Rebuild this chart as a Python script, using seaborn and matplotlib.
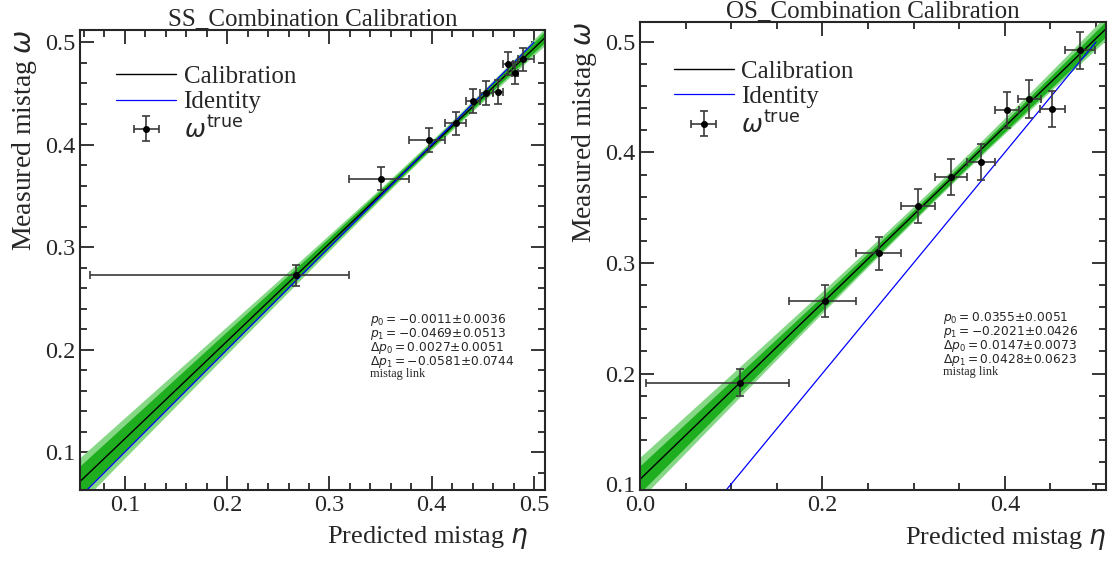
import numpy as np
import pandas as pd
import matplotlib
matplotlib.use('Agg')
import matplotlib.pyplot as plt
from matplotlib.ticker import MultipleLocator
import seaborn as sns

# SS combination: eta (mean of bin), bin edges, measured omega and its error
ss_eta = [0.267, 0.350, 0.397, 0.4235, 0.4407, 0.453, 0.4645, 0.4746, 0.4814, 0.4895]
ss_eta_lo = [0.066, 0.319, 0.378, 0.413, 0.4335, 0.447, 0.4596, 0.470, 0.478, 0.4845]
ss_eta_hi = [0.319, 0.378, 0.413, 0.4335, 0.447, 0.4596, 0.4694, 0.479, 0.4845, 0.500]
ss_omega = [0.2726, 0.3666, 0.4047, 0.4207, 0.4424, 0.4505, 0.4515, 0.479, 0.470, 0.4834]
ss_omega_err = [0.0104, 0.0112, 0.0117, 0.0114, 0.0115, 0.0114, 0.0114, 0.0112, 0.0111, 0.0112]

# OS combination
os_eta = [0.1093, 0.203, 0.2616, 0.3046, 0.3406, 0.3744, 0.4025, 0.4264, 0.452, 0.4826]
os_eta_lo = [0.0067, 0.1633, 0.2369, 0.286, 0.3236, 0.3584, 0.3891, 0.4146, 0.4386, 0.4658]
os_eta_hi = [0.1633, 0.2374, 0.286, 0.3236, 0.3584, 0.3891, 0.4156, 0.4392, 0.4658, 0.4988]
os_omega = [0.1918, 0.2655, 0.3088, 0.3517, 0.3775, 0.3911, 0.4386, 0.4485, 0.4395, 0.4924]
os_omega_err = [0.0126, 0.0142, 0.0148, 0.0156, 0.0163, 0.0163, 0.0165, 0.0170, 0.0166, 0.0170]

# calibration parameters  (p0, dp0, p1, dp1, Dp0, dDp0, Dp1, dDp1)
ss_par = [-0.0011, 0.0036, -0.0469, 0.0513, 0.0027, 0.0051, -0.0581, 0.0744]
os_par = [0.0355, 0.0051, -0.2021, 0.0426, 0.0147, 0.0073, 0.0428, 0.0623]
ss_eta_avg = 0.40
os_eta_avg = 0.34

sns.set_theme(style='ticks')
plt.rcParams['font.family'] = ['Liberation Serif', 'DejaVu Sans']
plt.rcParams['mathtext.fontset'] = 'dejavusans'

fig = plt.figure(figsize=(11.13, 5.61), dpi=100)
ax1 = fig.add_axes([0.0719, 0.1266, 0.418, 0.820])
ax2 = fig.add_axes([0.5750, 0.1266, 0.4187, 0.834])


def draw(ax, title, eta, lo, hi, omega, oerr, par, eta_avg, xlim, ylim, xmaj, xmin,
         txt_xy, leg_xy, xlab_x):
    p0, dp0, p1, dp1, Dp0, dDp0, Dp1, dDp1 = par
    grid = np.linspace(-0.05, 0.55, 300)
    calib = grid + p0 + p1 * (grid - eta_avg)
    sig = np.sqrt(dp0 ** 2 + ((grid - eta_avg) * dp1) ** 2)
    ax.fill_between(grid, calib - 1.25 * sig, calib + 1.25 * sig, color='#86d886', lw=0)
    ax.fill_between(grid, calib - 0.8 * sig, calib + 0.8 * sig, color='#1fae1f', lw=0)
    sns.lineplot(x=grid, y=calib, color='black', lw=1.0, ax=ax, label='Calibration')
    ident = np.linspace(0, 0.5, 50)
    sns.lineplot(x=ident, y=ident, color='blue', lw=0.9, ax=ax, label='Identity')
    eta = np.array(eta)
    xerr = [eta - np.array(lo), np.array(hi) - eta]
    ax.errorbar(eta, omega, xerr=xerr, yerr=oerr, fmt='o', color='black', ms=4,
                ecolor='#3a3a3a', elinewidth=1.2, capsize=3, capthick=1.2,
                label=r'$\omega^{\rm true}$')
    ax.set_xlim(*xlim)
    ax.set_ylim(*ylim)
    ax.xaxis.set_major_locator(MultipleLocator(xmaj))
    ax.xaxis.set_minor_locator(MultipleLocator(xmin))
    ax.yaxis.set_major_locator(MultipleLocator(0.1))
    ax.yaxis.set_minor_locator(MultipleLocator(0.02))
    ax.tick_params(which='both', direction='in', top=True, right=True, labelsize=17.5, width=1.3)
    ax.tick_params(which='major', length=10)
    ax.tick_params(which='minor', length=5)
    for s in ax.spines.values():
        s.set_linewidth(1.5)
    ax.set_xlabel(r'Predicted mistag $\eta$', fontsize=19, ha='right', va='top')
    ax.xaxis.set_label_coords(xlab_x, -0.075)
    ax.set_ylabel(r'Measured mistag $\omega$', fontsize=20, loc='top')
    ax.set_title(title, fontsize=18, pad=0)
    ax.legend(loc='upper left', bbox_to_anchor=leg_xy, frameon=False, fontsize=18,
              handlelength=2.4, labelspacing=0.12, borderaxespad=0, handletextpad=0.3)
    info = '\n'.join([r'$p_0 = %.4f{\pm}%.4f$' % (p0, dp0),
                      r'$p_1 = %.4f{\pm}%.4f$' % (p1, dp1),
                      r'$\Delta p_0 = %.4f{\pm}%.4f$' % (Dp0, dDp0),
                      r'$\Delta p_1 = %.4f{\pm}%.4f$' % (Dp1, dDp1),
                      'mistag link'])
    ax.text(txt_xy[0], txt_xy[1], info, transform=ax.transAxes, fontsize=8.8,
            va='top', ha='left', linespacing=0.82)


draw(ax1, 'SS_Combination Calibration', ss_eta, ss_eta_lo, ss_eta_hi, ss_omega, ss_omega_err,
     ss_par, ss_eta_avg, (0.0562, 0.511), (0.063, 0.512), 0.1, 0.02,
     (0.624, 0.387), (0.056, 0.945), 0.963)
draw(ax2, 'OS_Combination Calibration', os_eta, os_eta_lo, os_eta_hi, os_omega, os_omega_err,
     os_par, os_eta_avg, (0.0, 0.511), (0.0946, 0.518), 0.2, 0.05,
     (0.650, 0.385), (0.051, 0.94), 1.0)

fig.savefig('out.png', dpi=100)
